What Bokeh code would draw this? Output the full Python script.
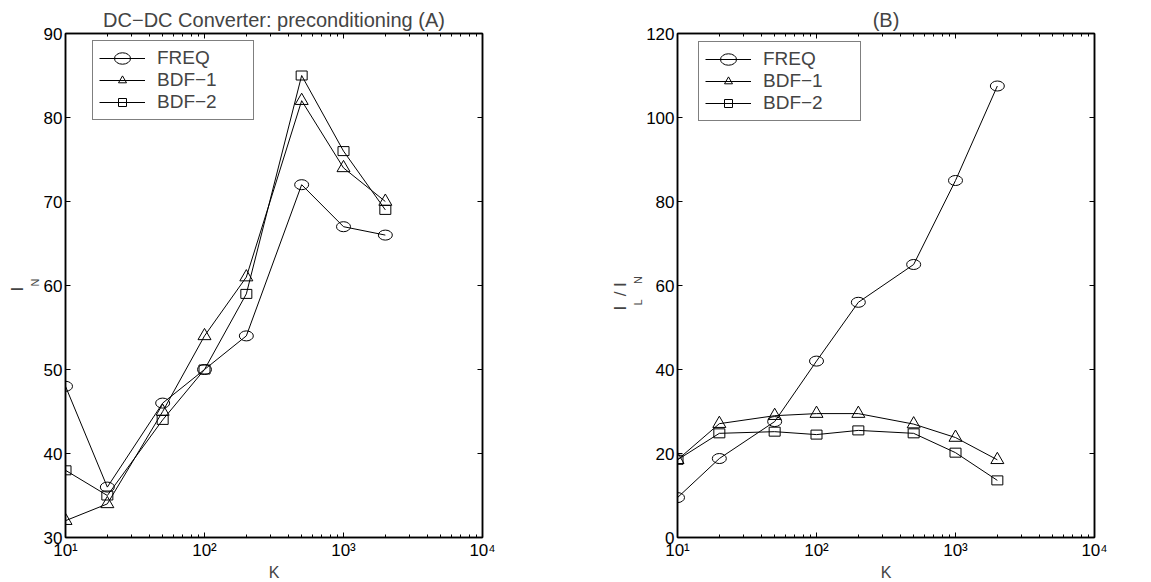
from bokeh.plotting import figure
from bokeh.layouts import row
from bokeh.models import (LogAxis, LinearAxis, Title, Legend, LegendItem,
                          FixedTicker, CustomJSTickFormatter, Range1d)
from bokeh.embed import file_html
from bokeh.resources import INLINE

FONT = "Liberation Sans"
NB = "\u00a0"

# ---- data -------------------------------------------------------------
K = [10, 20, 50, 100, 200, 500, 1000, 2000]
A_FREQ = [48, 36, 46, 50, 54, 72, 67, 66]
A_BDF1 = [32, 34, 45, 54, 61, 82, 74, 70]
A_BDF2 = [38, 35, 44, 50, 59, 85, 76, 69]
B_FREQ = [9.5, 18.8, 27.6, 42, 56, 65, 85, 107.5]
B_BDF1 = [18.5, 27.1, 29, 29.5, 29.5, 27, 23.8, 18.5]
B_BDF2 = [18.5, 24.8, 25.2, 24.5, 25.5, 24.8, 20.2, 13.6]
SERIES = ["FREQ", "BDF−1", "BDF−2"]
X_TICKS = [10, 100, 1000, 10000]
X_TICK_LABELS = ["10¹", "10²", "10³", "10⁴"]
X_MINOR = [m * 10 ** e for e in (1, 2, 3) for m in range(2, 10)]
A_Y_TICKS = [30, 40, 50, 60, 70, 80, 90]
B_Y_TICKS = [0, 20, 40, 60, 80, 100, 120]
TITLE_A = "DC−DC Converter: preconditioning (A)"
TITLE_B = "(B)"
YLABEL_A = ("I", "N")                      # main text, subscript text
YLABEL_B = ("I" + NB * 2 + "/" + NB + "I", "L" + NB * 5 + "N")

FW, FH = 417, 504


def style_axis(ax, y_ticks=None, labels=True):
    ax.axis_line_color = "black"
    ax.axis_line_width = 1.5
    ax.major_tick_in = 5
    ax.major_tick_out = 0
    ax.minor_tick_in = 3
    ax.minor_tick_out = 0
    ax.major_tick_line_color = "black"
    ax.minor_tick_line_color = "black"
    ax.major_label_text_font = FONT
    ax.major_label_text_font_size = "17px"
    ax.major_label_text_color = "black"
    ax.major_label_standoff = 3
    if y_ticks is not None:
        ax.ticker = FixedTicker(ticks=y_ticks, minor_ticks=[])
    else:
        ax.ticker = FixedTicker(ticks=X_TICKS, minor_ticks=X_MINOR)
        ax.formatter = CustomJSTickFormatter(
            args=dict(t=X_TICKS, l=X_TICK_LABELS),
            code="for (let i=0;i<t.length;i++){ if (Math.abs(Math.log10(tick/t[i]))<1e-6) return l[i]; } return '';")
    if not labels:
        ax.major_label_text_color = None
        ax.major_label_text_font_size = "1px"
        ax.major_label_standoff = 0


def panel(ys, yr, y_ticks, title, t_off, ylabel, yl_off, sub_shift,
          legend_loc, label_width, bl, br):
    p = figure(x_axis_type="log", x_range=Range1d(10, 10000),
               y_range=Range1d(*yr), frame_width=FW, frame_height=FH,
               min_border_left=bl, min_border_right=br, min_border_top=33,
               min_border_bottom=40, output_backend="svg",
               toolbar_location=None, background_fill_color="white",
               border_fill_color="white", outline_line_color="black",
               outline_line_width=1.5)
    p.xgrid.visible = False
    p.ygrid.visible = False
    style_axis(p.xaxis[0])
    style_axis(p.yaxis[0], y_ticks)
    p.xaxis.axis_label = "K"
    p.xaxis.axis_label_text_font = FONT
    p.xaxis.axis_label_text_font_size = "16px"
    p.xaxis.axis_label_text_font_style = "normal"
    p.xaxis.axis_label_standoff = 1
    top = LogAxis()
    style_axis(top, labels=False)
    p.add_layout(top, "above")
    right = LinearAxis()
    style_axis(right, y_ticks, labels=False)
    p.add_layout(right, "right")

    kw = dict(line_color="black", line_width=1)
    l0 = p.line(K, ys[0], **kw)
    m0 = p.ellipse(x=K, y=ys[0], width=14, height=10, width_units="screen",
                   height_units="screen", fill_color=None, **kw)
    l1 = p.line(K, ys[1], **kw)
    m1 = p.scatter(K, ys[1], marker="triangle", size=13, fill_color=None, **kw)
    l2 = p.line(K, ys[2], **kw)
    m2 = p.rect(x=K, y=ys[2], width=11, height=9, width_units="screen",
                height_units="screen", fill_color=None, **kw)
    m2l = p.scatter(K, ys[2], marker="square", size=0, fill_color=None, **kw)

    items = [LegendItem(label=SERIES[0], renderers=[l0, m0]),
             LegendItem(label=SERIES[1], renderers=[l1, m1]),
             LegendItem(label=SERIES[2], renderers=[l2, m2l])]
    leg = Legend(items=items, location=legend_loc, border_line_color="black",
                 border_line_width=1, background_fill_color="white",
                 background_fill_alpha=1, label_text_font=FONT,
                 label_text_font_size="19px", glyph_width=46, glyph_height=20,
                 label_height=20, label_width=label_width, label_standoff=12,
                 padding=6, spacing=0, margin=0)
    p.add_layout(leg)

    p.add_layout(Title(text=title, align="center", offset=t_off, text_font=FONT,
                       text_font_size="20px", text_font_style="normal",
                       standoff=6), "above")
    # y-axis label: subscript column next to the axis, main column outside it
    p.add_layout(Title(text=ylabel[1], align="left", offset=yl_off + sub_shift,
                       text_font=FONT, text_font_size="11px",
                       text_font_style="normal", standoff=0), "left")
    p.add_layout(Title(text=ylabel[0], align="left", offset=yl_off,
                       text_font=FONT, text_font_size="17px",
                       text_font_style="normal", standoff=0), "left")
    return p


pa = panel([A_FREQ, A_BDF1, A_BDF2], (30, 90), A_Y_TICKS, TITLE_A, 1,
           YLABEL_A, 246, 5, (27, 417), 90, 65, 93)
pb = panel([B_FREQ, B_BDF1, B_BDF2], (0, 120), B_Y_TICKS, TITLE_B, 0,
           YLABEL_B, 227, 5, (21, 416), 91, 102, 40)

layout = row(pa, pb)
open("out.html", "w").write(file_html(layout, INLINE))
